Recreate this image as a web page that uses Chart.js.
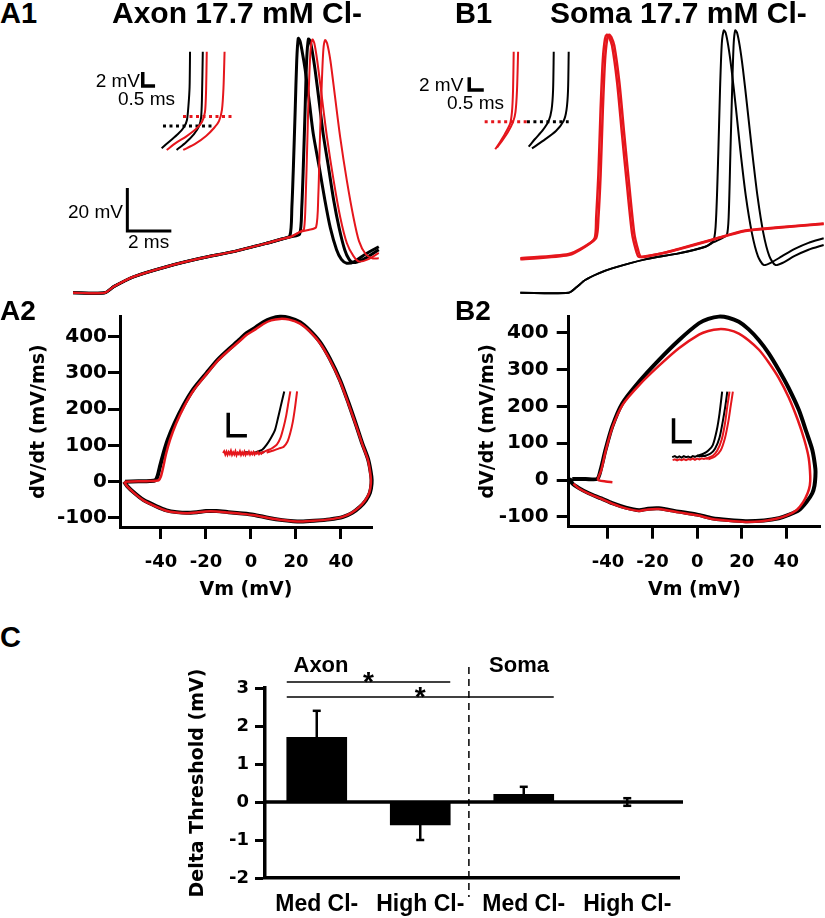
<!DOCTYPE html>
<html>
<head>
<meta charset="utf-8">
<script src="https://cdn.jsdelivr.net/npm/chart.js@4.4.1/dist/chart.umd.min.js"></script>
<style>
  html, body { margin: 0; padding: 0; background: #fff; }
  #page { position: relative; width: 825px; height: 918px; overflow: hidden; }
  canvas { position: absolute; }
  .t { position: absolute; white-space: nowrap; line-height: 1; color: #000;
       font-family: "Liberation Sans", Arial, sans-serif; transform: translate(0, -50%); }
  .b { font-weight: bold; }
  .r { transform: translate(-100%, -50%); }
  .m { transform: translate(-50%, -50%); }
</style>
</head>
<body>
<div id="page">
  <canvas id="a1" width="340" height="285" style="left:60px;top:20px"></canvas>
  <canvas id="b1" width="413" height="285" style="left:412px;top:20px"></canvas>
  <canvas id="a2" width="400" height="310" style="left:0px;top:300px"></canvas>
  <canvas id="b2" width="413" height="310" style="left:412px;top:300px"></canvas>
  <canvas id="c" width="560" height="318" style="left:160px;top:600px"></canvas>

  <div class="t b" style="left:0;top:12.5px;font-size:29px">A1</div>
  <div class="t b" style="left:112px;top:12.5px;font-size:30px">Axon 17.7 mM Cl-</div>
  <div class="t b" style="left:455px;top:12.5px;font-size:29px">B1</div>
  <div class="t b" style="left:550px;top:12.5px;font-size:30px">Soma 17.7 mM Cl-</div>
  <div class="t b" style="left:0;top:311px;font-size:28px">A2</div>
  <div class="t b" style="left:455px;top:311px;font-size:28px">B2</div>
  <div class="t b" style="left:0;top:637px;font-size:29px">C</div>

  <div class="t r" style="left:140px;top:79.5px;font-size:19px">2 mV</div>
  <div class="t" style="left:118px;top:97.5px;font-size:19px">0.5 ms</div>
  <div class="t" style="left:68px;top:211px;font-size:19px">20 mV</div>
  <div class="t" style="left:128px;top:240.5px;font-size:19px">2 ms</div>
  <div class="t" style="left:419px;top:84px;font-size:19px">2 mV</div>
  <div class="t" style="left:447px;top:101.5px;font-size:19px">0.5 ms</div>

  <div class="t b m" style="left:321px;top:664.5px;font-size:22px">Axon</div>
  <div class="t b m" style="left:519px;top:664.5px;font-size:22px">Soma</div>
</div>

<script>
// ---------- A1: axon recording, time (ms) vs Vm (mV) ----------
const a1Ramp   = [[0,-80],[1.45,-80],[1.85,-77.2],[2.75,-72.6],[4.25,-67.9],[5.8,-64],[7.3,-60.9],[8.8,-57],[9.5,-55]];
const a1Black1 = [[9.86,-53.5],[9.95,-40],[10.02,-21],[10.1,5],[10.17,28],[10.24,38.3],[10.32,37],[10.42,32],[10.55,24],[10.75,8],[10.92,-6],[11.2,-22],[11.45,-37],[11.7,-50],[11.98,-60],[12.2,-64.5],[12.44,-66.3],[12.8,-65.5],[13.3,-62],[13.9,-58.6]];
const a1Black2 = [[9.9,-54],[10.3,-52.8],[10.4,-40],[10.47,-21],[10.55,5],[10.62,28],[10.7,38],[10.78,37],[10.88,32],[11.0,24],[11.2,8],[11.37,-6],[11.62,-22],[11.85,-37],[12.1,-50],[12.35,-60],[12.55,-64.5],[12.75,-66],[13.2,-64.5],[13.9,-60]];
const a1Red1   = [[9.9,-54],[10.3,-51.8],[10.5,-50.5],[10.58,-35],[10.65,-10],[10.72,15],[10.8,33],[10.88,37.8],[10.97,36],[11.1,28],[11.3,12],[11.55,-8],[11.85,-28],[12.15,-45],[12.45,-57],[12.75,-63],[13.0,-65.5],[13.4,-64.5],[13.9,-61.5]];
const a1Red2   = [[9.9,-54],[10.3,-51.8],[10.7,-50.8],[11.05,-49.5],[11.15,-35],[11.22,-10],[11.3,15],[11.38,33],[11.46,37.5],[11.55,36],[11.7,28],[11.9,12],[12.15,-8],[12.45,-28],[12.75,-45],[13.0,-56],[13.3,-62],[13.6,-64],[13.9,-64]];
// threshold inset (expanded), placed in the same axes
const a1InBlackA = [[4.03,-12.8],[4.41,-9.4],[4.77,-6.2],[5.05,-2.9],[5.18,0.3],[5.25,7.3],[5.3,15.8],[5.32,32.1]];
const a1InBlackB = [[4.71,-13.6],[5.14,-10],[5.5,-6.2],[5.73,-2.5],[5.82,1.3],[5.86,9.6],[5.9,32.1]];
const a1InRedA   = [[4.26,-13.6],[4.68,-10.3],[5.14,-7.4],[5.59,-3.9],[5.86,-0.6],[6.0,4.1],[6.05,14.3],[6.08,32.1]];
const a1InRedB   = [[5.01,-13.6],[5.55,-10.8],[6.05,-7.1],[6.41,-3.4],[6.64,-0.1],[6.77,5],[6.84,15.2],[6.89,32.1]];
const a1ThrBlack = [[4.09,-2.5],[6.36,-2.5]];
const a1ThrRed   = [[5.0,1.9],[7.23,1.9]];
const a1InBar    = [[3.17,22.7],[3.17,16.1],[3.73,16.1]];
const a1Bar      = [[2.47,-31.3],[2.47,-51.3],[4.47,-51.3]];

// ---------- B1: soma recording ----------
const b1BlackRamp = [[0,-80],[2.2,-80],[2.55,-77.5],[2.95,-74.1],[3.56,-71],[4.17,-68.7],[5.68,-64.5],[7.2,-61.7],[8.41,-58.6]];
const b1Black1 = [[8.79,-55.5],[8.9,-45],[9.0,-15],[9.08,15],[9.16,36],[9.25,42],[9.33,41],[9.45,35],[9.6,24],[9.8,6],[10.0,-13.6],[10.25,-35],[10.53,-52.4],[10.8,-63],[11.06,-67.1],[11.4,-66],[11.9,-63],[12.5,-59.5],[13.1,-56.8],[13.79,-54.7]];
const b1Black2 = [[8.79,-56.5],[9.2,-54.5],[9.39,-53.2],[9.47,-45],[9.55,-15],[9.63,15],[9.7,36],[9.77,42],[9.85,41],[9.97,35],[10.12,24],[10.32,6],[10.53,-13.6],[10.78,-35],[11.05,-52.4],[11.32,-63],[11.59,-67.1],[11.95,-66],[12.45,-63],[13.1,-60],[13.79,-57.8]];
const b1Red1 = [[0,-64.5],[2.2,-62.5],[2.95,-58.6],[3.38,-54.7],[3.45,-45],[3.55,-25],[3.65,5],[3.75,28],[3.85,38],[3.94,40],[4.03,39],[4.17,35],[4.4,18],[4.62,-5.9],[4.85,-30],[5.08,-52.4],[5.25,-60],[5.38,-63.3],[5.7,-63],[6.44,-61.7],[7.2,-59.8],[8.71,-55.5],[10.23,-51.3],[11.74,-49.8],[13.79,-48]];
const b1Red2 = [[0,-64],[2.2,-62],[2.95,-58.3],[3.45,-54.5],[3.55,-45],[3.65,-25],[3.75,5],[3.85,28],[3.95,38],[4.04,40],[4.13,39],[4.27,35],[4.5,18],[4.72,-5.9],[4.95,-30],[5.18,-52.4],[5.35,-60],[5.48,-63.3],[5.8,-63],[6.5,-61.5],[7.2,-59.6],[8.71,-55.3],[10.23,-51.1],[11.74,-49.6],[13.79,-47.8]];
const b1InRedA   = [[-1.14,-13.3],[-0.92,-9.9],[-0.7,-6.2],[-0.47,-1.6],[-0.38,4],[-0.33,14.3],[-0.3,32.1]];
const b1InRedB   = [[-1.06,-12.5],[-0.83,-9.4],[-0.56,-5.3],[-0.33,-0.6],[-0.22,4],[-0.15,14.3],[-0.1,32.1]];
const b1InBlackA = [[0.38,-12.1],[0.67,-8.5],[1.03,-4.3],[1.29,-0.1],[1.42,5],[1.49,14.3],[1.52,32.1]];
const b1InBlackB = [[0.53,-12.9],[1.03,-9.4],[1.62,-4.8],[1.97,-0.1],[2.1,5],[2.17,14.3],[2.2,32.1]];
const b1ThrRed   = [[-1.62,-0.5],[0.3,-0.5]];
const b1ThrBlack = [[0.3,-0.5],[2.2,-0.5]];
const b1InBar    = [[-2.32,20.2],[-2.32,14.3],[-1.66,14.3]];

// ---------- A2 / B2: phase plots, Vm (mV) vs dV/dt (mV/ms) ----------
const vmTicks   = [-40, -20, 0, 20, 40];
const dvdtTicks = [-100, 0, 100, 200, 300, 400];
const a2Black = [[-56,0],[-50,1],[-45,2],[-42.5,4],[-41.5,15],[-40.5,40],[-39,75],[-37,115],[-34,160],[-30,210],[-25.6,255],[-19.7,300],[-15,335],[-10.8,360],[-5,392],[-1.9,410],[2,425],[5.5,440],[9,450],[12.9,455],[17,452],[21.8,440],[26,418],[30.7,385],[35,340],[39.6,280],[43.5,215],[47,152],[49.5,105],[52.1,61],[53.5,15],[53.6,-5],[52.9,-30],[51,-52],[48.4,-70],[45,-86],[41,-97],[35,-104],[28,-108],[22,-110],[18.8,-109],[14,-106],[8,-100],[1,-91],[-5,-87],[-10,-84],[-15.3,-81],[-20,-81],[-24,-84],[-28.6,-86],[-33,-84],[-37.5,-79],[-42,-68],[-47.9,-50],[-52,-30],[-55,-12],[-56.4,0]];
const a2Red = [[-56,0],[-50,1],[-45,2],[-41,4],[-40,15],[-39,40],[-37.8,75],[-36,115],[-33.3,160],[-29.5,210],[-25.4,253],[-19.6,298],[-15,332],[-10.8,357],[-5,388],[-1.9,405],[2,420],[5.5,435],[9,445],[12.9,449],[17,447],[21.8,436],[26,415],[30.7,382],[35,337],[39.6,277],[43.5,212],[47,150],[49.5,103],[52,60],[53.2,15],[53.3,-5],[52.6,-30],[50.7,-52],[48.1,-70],[44.7,-86],[40.7,-97],[34.8,-104],[27.8,-108],[21.8,-110],[18.6,-109],[13.8,-106],[7.8,-100],[0.8,-92],[-5.2,-88],[-10.2,-85],[-15.5,-82],[-20.2,-82],[-24.2,-85],[-28.8,-87],[-33.2,-85],[-37.7,-80],[-42.2,-69],[-48,-51],[-52,-31],[-55,-13],[-56.4,0]];
const a2InNoiseRed   = [[-12.4,79],[-11.9,84],[-11.4,75],[-10.9,83],[-10.4,74],[-9.9,82],[-9.4,76],[-8.9,85],[-8.4,74],[-7.9,81],[-7.4,75],[-6.9,84],[-6.4,73],[-5.9,80],[-5.4,76],[-4.9,84],[-4.4,74],[-3.9,81],[-3.4,75],[-2.9,83],[-2.4,74],[-1.9,80],[-1.4,76],[-0.9,83],[-0.4,75],[0.1,81],[0.6,76],[1.1,82],[1.6,75],[2.1,80],[2.6,77],[3.1,82],[3.6,76],[4.1,80],[4.6,77],[5.1,81],[5.6,78]];
const a2InNoiseBlack = [[-6,80],[-4,78],[-2,82],[0,78],[2,81],[4,79],[6,82]];
const a2InBlack = [[2.5,82],[5,88],[7,102],[9,122],[10.7,143],[12,175],[13.2,207],[14.8,249]];
const a2InRed1  = [[5.5,82],[8,88],[9.5,93],[11.5,102],[13.2,122],[14.5,150],[15.6,180],[16.7,220],[17.5,249]];
const a2InRed2  = [[7,80],[10,86],[12.5,92],[14.5,96],[16.2,110],[17.5,135],[18.6,165],[19.6,205],[20.5,249]];
const a2InBar   = [[-10.1,190],[-10.1,127],[-1.8,127]];

const b2Black = [[-56,3],[-50,3],[-44.8,3],[-43.3,27],[-41.1,82],[-38.1,145],[-33.6,208],[-26.1,267],[-17.2,326],[-8.2,380],[0.8,426],[5,438],[9.7,444],[14,441],[18.7,430],[23,410],[27.7,380],[32,345],[36.6,299],[41,250],[45.6,190],[49,130],[51.6,82],[53,30],[53,9],[52.6,-15],[51.6,-36],[49,-60],[45.6,-82],[41,-95],[36.6,-104],[30,-110],[21.7,-112],[14,-109],[6.7,-104],[0,-94],[-8.2,-86],[-17.2,-77],[-22,-78],[-26.1,-82],[-32,-75],[-38.1,-63],[-43,-50],[-48.6,-36],[-53,-22],[-56,-9],[-56.5,0],[-56,3]];
const b2Red = [[-38,-6],[-41,-4],[-44,-1],[-44.5,3],[-43,27],[-40.9,82],[-37.9,145],[-33.4,205],[-26,258],[-17.2,310],[-8.2,358],[0.8,395],[5,405],[9.7,410],[14,408],[18.7,398],[23,380],[27.7,354],[32,320],[36.6,277],[41,225],[45,165],[48,110],[50,60],[50.7,10],[50.5,-15],[49.5,-36],[47.5,-60],[44.5,-82],[40,-97],[35,-106],[29,-112],[21.7,-114],[14,-111],[6.7,-106],[0,-96],[-8.2,-88],[-17.2,-79],[-22,-80],[-26.1,-84],[-32,-77],[-38.1,-64],[-43,-51],[-48.6,-37],[-53,-23],[-55.5,-10]];
const b2InNoiseBlack = [[-11.2,62],[-10,65],[-9,61],[-8,64],[-7,61],[-6,65],[-5,62],[-4,64],[-3,61],[-2,65],[-1,63],[0,66],[1,64],[2,66],[3,65],[4,67]];
const b2InNoiseRed   = [[-11,54],[-10,56],[-9,53],[-8,56],[-7,54],[-6,57],[-5,54],[-4,57],[-3,55],[-2,58],[-1,55],[0,58],[1,56],[2,59],[3,57],[4,59],[5,58]];
const b2InBlackA = [[0,66],[3,72],[5,80],[7,95],[8.8,136],[10,180],[11.2,240]];
const b2InBlackB = [[3,64],[6,72],[8,85],[10,115],[11.5,160],[12.6,200],[13.5,240]];
const b2InRedA   = [[4,58],[7,66],[9,80],[11,110],[12.5,155],[13.5,200],[14.5,240]];
const b2InRedB   = [[5,56],[8,64],[10.5,80],[12.5,115],[14,160],[15,200],[16,240]];
const b2InBar    = [[-10.6,168],[-10.6,104],[-2.4,104]];

// ---------- C: delta threshold bars ----------
const cCategories = ['Med Cl-', 'High Cl-', 'Med Cl-', 'High Cl-'];
const cMeans   = [1.7, -0.6, 0.2, 0.0];
const cErr     = [0.7, 0.4, 0.2, 0.1];
const cTicks   = [-2, -1, 0, 1, 2, 3];
const cSigFrom = [0, 0];
const cSigTo   = [1, 2];
const cSigAt   = [3.16, 2.76];
const cDivider = 1.47;       // between axon and soma groups
const cDividerSpan = [-2.5, 3.55];

const RED = '#e5161c', BLACK = '#000';
Chart.defaults.color = '#000';
Chart.defaults.font.family = '"Liberation Sans", Arial, sans-serif';

function ln(pts, color, width, opts) {
  return Object.assign({
    data: pts.map(p => ({ x: p[0], y: p[1] })),
    showLine: true, pointRadius: 0, borderColor: color, borderWidth: width,
    tension: 0.25, clip: false, fill: false
  }, opts || {});
}
const straight = { tension: 0 };
const dotted = { tension: 0, borderDash: [3, 3.5] };

function traceChart(id, xr, yr, datasets) {
  return new Chart(document.getElementById(id), {
    type: 'scatter',
    data: { datasets },
    options: {
      responsive: false, animation: false, devicePixelRatio: 1,
      layout: { padding: 0 },
      plugins: { legend: { display: false }, tooltip: { enabled: false } },
      scales: {
        x: { type: 'linear', display: false, min: xr[0], max: xr[1] },
        y: { type: 'linear', display: false, min: yr[0], max: yr[1] }
      }
    }
  });
}

const boldDV = (size) => ({ family: '"DejaVu Sans", sans-serif', weight: 'bold', size });

function phaseChart(id, o, datasets) {
  return new Chart(document.getElementById(id), {
    type: 'scatter',
    data: { datasets },
    options: {
      responsive: false, animation: false, devicePixelRatio: 1,
      layout: { padding: { top: o.padTop, right: o.padRight, left: 0, bottom: 0 } },
      plugins: { legend: { display: false }, tooltip: { enabled: false } },
      scales: {
        x: {
          type: 'linear', min: o.x[0], max: o.x[1],
          afterFit(s) { s.height = o.xh; s.paddingLeft = 0; s.paddingRight = 0; },
          afterBuildTicks(s) { s.ticks = vmTicks.map(v => ({ value: v })); },
          grid: { drawOnChartArea: false, tickLength: 12, tickWidth: 3, tickColor: BLACK },
          border: { color: BLACK, width: 3 },
          ticks: { font: boldDV(18), padding: 13, maxRotation: 0, autoSkip: false },
          title: { display: true, text: 'Vm (mV)', font: boldDV(19), padding: { top: 0, bottom: 8.6 } }
        },
        y: {
          type: 'linear', min: o.y[0], max: o.y[1],
          afterFit(s) { s.width = o.yw; s.paddingTop = 0; s.paddingBottom = 0; },
          afterBuildTicks(s) { s.ticks = dvdtTicks.map(v => ({ value: v })); },
          grid: { drawOnChartArea: false, tickLength: 12, tickWidth: 3, tickColor: BLACK },
          border: { color: BLACK, width: 3 },
          ticks: { font: boldDV(20), padding: o.tickPad, autoSkip: false },
          title: { display: true, text: 'dV/dt (mV/ms)', font: boldDV(19), padding: { top: o.titlePad, bottom: 0 } }
        }
      }
    }
  });
}

// A1
traceChart('a1', [-0.591, 14.864], [-85.72, 46.84], [
  ln(a1InRedA, RED, 2), ln(a1InRedB, RED, 2), ln(a1InBlackA, BLACK, 2), ln(a1InBlackB, BLACK, 2),
  ln(a1ThrRed, RED, 3, dotted), ln(a1ThrBlack, BLACK, 3, dotted),
  ln(a1InBar, BLACK, 3.5, straight), ln(a1Bar, BLACK, 3, straight),
  ln(a1Ramp.concat(a1Red1), RED, 2), ln(a1Ramp.concat(a1Red2), RED, 2),
  ln(a1Ramp.concat(a1Black1), BLACK, 3), ln(a1Ramp.concat(a1Black2), BLACK, 3)
]);

// B1
traceChart('b1', [-4.923, 13.85], [-85.72, 46.84], [
  ln(b1InRedA, RED, 2), ln(b1InRedB, RED, 2), ln(b1InBlackA, BLACK, 2), ln(b1InBlackB, BLACK, 2),
  ln(b1ThrRed, RED, 3, dotted), ln(b1ThrBlack, BLACK, 3, dotted),
  ln(b1InBar, BLACK, 3.5, straight),
  ln(b1Red1, RED, 2.5), ln(b1Red2, RED, 2.5),
  ln(b1BlackRamp.concat(b1Black1), BLACK, 2), ln(b1BlackRamp.concat(b1Black2), BLACK, 2)
]);

// A2
phaseChart('a2', { x: [-58.2, 53.8], y: [-125, 457], padTop: 16, padRight: 28, xh: 83, yw: 120, tickPad: 1, titlePad: 27.6 }, [
  ln(a2InNoiseRed, RED, 2, straight), ln(a2InRed1, RED, 2), ln(a2InRed2, RED, 2),
  ln(a2InBlack, BLACK, 2), ln(a2InNoiseBlack, BLACK, 2, straight),
  ln(a2InBar, BLACK, 3.5, straight),
  ln(a2Red, RED, 2.5), ln(a2Black, BLACK, 4)
]);

// B2
phaseChart('b2', { x: [-57.6, 55.2], y: [-126.9, 445.7], padTop: 16, padRight: 4.7, xh: 83.3, yw: 156.7, tickPad: 8, titlePad: 64.6 }, [
  ln(b2InRedA, RED, 2), ln(b2InRedB, RED, 2), ln(b2InNoiseRed, RED, 2, straight),
  ln(b2InBlackA, BLACK, 2), ln(b2InBlackB, BLACK, 2), ln(b2InNoiseBlack, BLACK, 2, straight),
  ln(b2InBar, BLACK, 3.5, straight),
  ln(b2Red, RED, 2.5), ln(b2Black, BLACK, 4)
]);

// C
const cExtras = {
  id: 'cExtras',
  afterDatasetsDraw(chart) {
    const { ctx, chartArea, scales: { x, y } } = chart;
    const bars = chart.getDatasetMeta(0).data;
    ctx.save();
    ctx.strokeStyle = BLACK;
    ctx.fillStyle = BLACK;
    // zero line
    ctx.lineWidth = 3.5;
    ctx.beginPath();
    ctx.moveTo(chartArea.left, y.getPixelForValue(0));
    ctx.lineTo(chartArea.right + 4, y.getPixelForValue(0));
    ctx.stroke();
    // error bars
    ctx.lineWidth = 2.5;
    cMeans.forEach((m, i) => {
      const bx = bars[i].x;
      const ends = m > 0 ? [m, m + cErr[i]] : m < 0 ? [m, m - cErr[i]] : [m - cErr[i], m + cErr[i]];
      ctx.beginPath();
      ctx.moveTo(bx, y.getPixelForValue(ends[0]));
      ctx.lineTo(bx, y.getPixelForValue(ends[1]));
      ctx.stroke();
      const caps = m === 0 ? ends : [ends[1]];
      caps.forEach(v => {
        ctx.beginPath();
        ctx.moveTo(bx - 4, y.getPixelForValue(v));
        ctx.lineTo(bx + 4, y.getPixelForValue(v));
        ctx.stroke();
      });
    });
    // dashed divider
    ctx.lineWidth = 1.5;
    ctx.setLineDash([7, 5]);
    const dx = x.getPixelForValue(cDivider);
    ctx.beginPath();
    ctx.moveTo(dx, y.getPixelForValue(cDividerSpan[1]));
    ctx.lineTo(dx, y.getPixelForValue(cDividerSpan[0]));
    ctx.stroke();
    ctx.setLineDash([]);
    // significance lines and stars
    ctx.font = 'bold 28px "Liberation Sans", Arial, sans-serif';
    ctx.textAlign = 'center';
    ctx.textBaseline = 'alphabetic';
    cSigAt.forEach((lvl, k) => {
      const x0 = bars[cSigFrom[k]].x - bars[cSigFrom[k]].width / 2;
      const x1 = bars[cSigTo[k]].x + bars[cSigTo[k]].width / 2;
      const py = y.getPixelForValue(lvl);
      ctx.lineWidth = 1.5;
      ctx.beginPath();
      ctx.moveTo(x0, py);
      ctx.lineTo(x1, py);
      ctx.stroke();
      ctx.fillText('*', (x0 + x1) / 2, py + 9);
    });
    ctx.restore();
  }
};

new Chart(document.getElementById('c'), {
  type: 'bar',
  data: { labels: cCategories, datasets: [{ data: cMeans, backgroundColor: BLACK, barThickness: 60, borderWidth: 0 }] },
  options: {
    responsive: false, animation: false, devicePixelRatio: 1,
    layout: { padding: { top: 88, right: 41, left: 0, bottom: 0 } },
    plugins: { legend: { display: false }, tooltip: { enabled: false } },
    scales: {
      x: {
        afterFit(s) { s.height = 40; s.paddingLeft = 0; s.paddingRight = 0; },
        grid: { display: true, drawOnChartArea: false, drawTicks: false },
        border: { color: BLACK, width: 3.5 },
        ticks: { font: { family: '"Liberation Sans", Arial, sans-serif', weight: 'bold', size: 23 }, padding: 13, maxRotation: 0, autoSkip: false }
      },
      y: {
        min: -2, max: 3,
        afterFit(s) { s.width = 105; s.paddingTop = 0; s.paddingBottom = 0; },
        afterBuildTicks(s) { s.ticks = cTicks.map(v => ({ value: v })); },
        grid: { drawOnChartArea: false, tickLength: 10, tickWidth: 3, tickColor: BLACK },
        border: { color: BLACK, width: 3.5 },
        ticks: { font: boldDV(18), padding: 6, autoSkip: false },
        title: { display: true, text: 'Delta Threshold (mV)', font: boldDV(19), padding: { top: 26.6, bottom: 0 } }
      }
    }
  },
  plugins: [cExtras]
});
</script>
</body>
</html>
